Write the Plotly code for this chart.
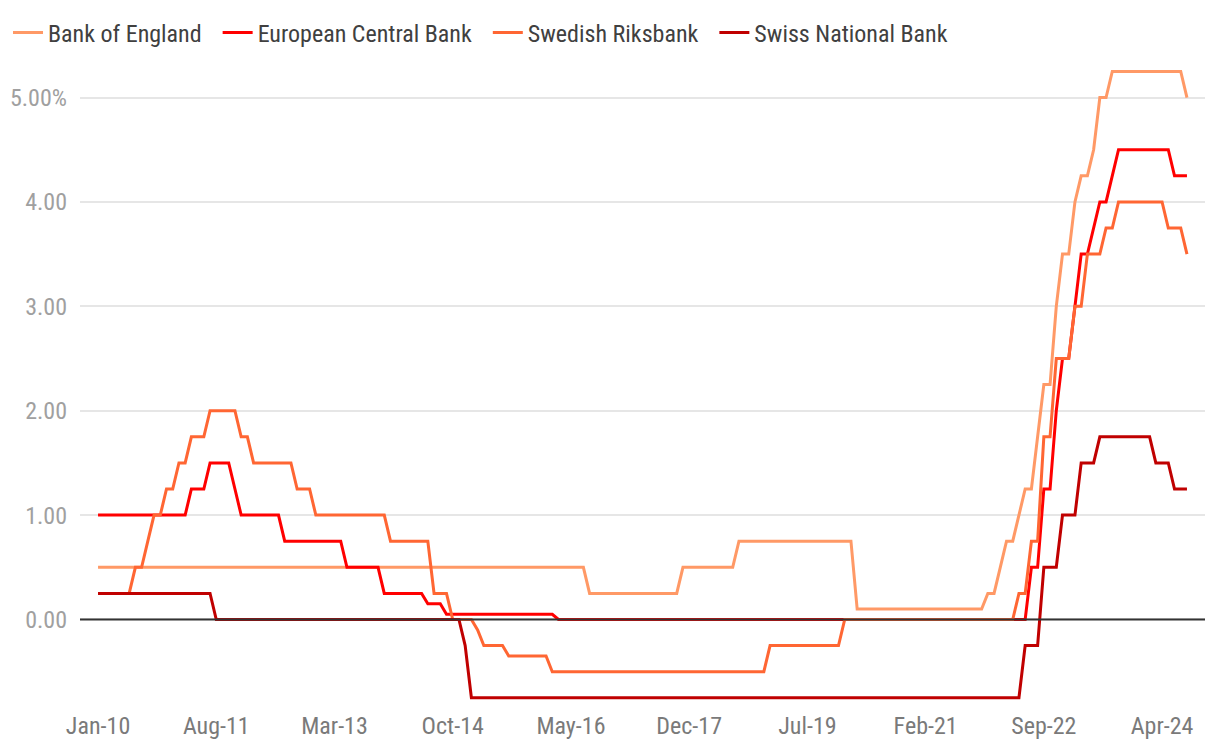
import pandas as pd
import plotly.graph_objects as go

# Monthly observations, Jan-2010 .. Aug-2024 (end-of-month policy rates, %)
months = pd.date_range("2010-01-01", "2024-08-01", freq="MS")
month_labels = [d.strftime("%b-%y") for d in months]

boe = ([0.5] * 79 + [0.25] * 15 + [0.5] * 9 + [0.75] * 19 + [0.1] * 21 +
       [0.25] * 2 + [0.5] * 1 + [0.75] * 2 + [1.0] * 1 + [1.25] * 2 + [1.75] * 1 +
       [2.25] * 2 + [3.0] * 1 + [3.5] * 2 + [4.0] * 1 + [4.25] * 2 + [4.5] * 1 +
       [5.0] * 2 + [5.25] * 12 + [5.0] * 1)

ecb = ([1.0] * 15 + [1.25] * 3 + [1.5] * 4 + [1.25] * 1 + [1.0] * 7 + [0.75] * 10 +
       [0.5] * 6 + [0.25] * 7 + [0.15] * 3 + [0.05] * 18 + [0.0] * 76 +
       [0.5] * 2 + [1.25] * 2 + [2.0] * 1 + [2.5] * 2 + [3.0] * 1 + [3.5] * 2 +
       [3.75] * 1 + [4.0] * 2 + [4.25] * 1 + [4.5] * 9 + [4.25] * 3)

riksbank = ([0.25] * 6 + [0.5] * 2 + [0.75] * 1 + [1.0] * 2 + [1.25] * 2 + [1.5] * 2 +
            [1.75] * 3 + [2.0] * 5 + [1.75] * 2 + [1.5] * 7 + [1.25] * 3 + [1.0] * 12 +
            [0.75] * 7 + [0.25] * 3 + [0.0] * 4 + [-0.1] * 1 + [-0.25] * 4 +
            [-0.35] * 7 + [-0.5] * 35 + [-0.25] * 12 + [0.0] * 28 + [0.25] * 2 +
            [0.75] * 2 + [1.75] * 2 + [2.5] * 3 + [3.0] * 2 + [3.5] * 3 + [3.75] * 2 +
            [4.0] * 8 + [3.75] * 3 + [3.5] * 1)

snb = ([0.25] * 19 + [0.0] * 40 + [-0.25] * 1 + [-0.75] * 89 + [-0.25] * 3 +
       [0.5] * 3 + [1.0] * 3 + [1.5] * 3 + [1.75] * 9 + [1.5] * 3 + [1.25] * 3)

series_names = ["Bank of England", "European Central Bank", "Swedish Riksbank", "Swiss National Bank"]
series_values = [boe, ecb, riksbank, snb]
series_colors = ["#FF9966", "#FF0000", "#FF6633", "#C00000"]

x_tick_labels = ["Jan-10", "Aug-11", "Mar-13", "Oct-14", "May-16",
                 "Dec-17", "Jul-19", "Feb-21", "Sep-22", "Apr-24"]
y_tick_values = [0, 1, 2, 3, 4, 5]
y_tick_labels = ["0.00", "1.00", "2.00", "3.00", "4.00", "5.00%"]

FONT = "Roboto Condensed, Liberation Sans Narrow, DejaVu Sans Condensed, Roboto, sans-serif"
PAD = "\u00a0\u00a0"

x_idx = list(range(len(months)))
fig = go.Figure()
for i, (name, vals, col) in enumerate(zip(series_names, series_values, series_colors)):
    label = name + (PAD if i < len(series_names) - 1 else "")
    fig.add_trace(go.Scatter(
        x=x_idx, y=vals, name=label, mode="lines",
        line=dict(color=col, width=3),
        customdata=month_labels,
        hovertemplate="%{customdata}: %{y:.2f}%<extra>" + name + "</extra>",
    ))

tick_pos = [month_labels.index(t) for t in x_tick_labels]

# page body has an 8px margin: figure is sized so it fits the 1220x752 window
fig.update_layout(
    width=1204, height=736,
    margin=dict(l=72, r=7, t=53, b=41),
    paper_bgcolor="white", plot_bgcolor="white",
    font=dict(family=FONT, size=24, color="#444444"),
    showlegend=True,
    legend=dict(orientation="h", xref="container", yref="container",
                x=0.0, y=0.966, xanchor="left", yanchor="middle",
                font=dict(family=FONT, size=24, color="#404040"),
                bgcolor="rgba(0,0,0,0)"),
    xaxis=dict(
        range=[-2.9, 177.9], tickmode="array", tickvals=tick_pos,
        ticktext=x_tick_labels, showgrid=False, zeroline=False,
        showline=False, ticks="", automargin=False, ticklabelstandoff=6,
        tickfont=dict(family=FONT, size=24, color="#7a7a7a"),
    ),
    yaxis=dict(
        range=[-0.8, 5.35], tickmode="array", tickvals=y_tick_values,
        ticktext=y_tick_labels, showgrid=True, gridcolor="#E6E6E6", gridwidth=1.5,
        zeroline=False, showline=False, ticks="", ticklabelstandoff=12,
        automargin=False,
        tickfont=dict(family=FONT, size=24, color="#A0A0A0"),
    ),
    shapes=[dict(type="line", xref="paper", yref="y", x0=0, x1=1, y0=0, y1=0,
                 line=dict(color="#333333", width=2), layer="above")],
)

fig.write_html("out.html")
